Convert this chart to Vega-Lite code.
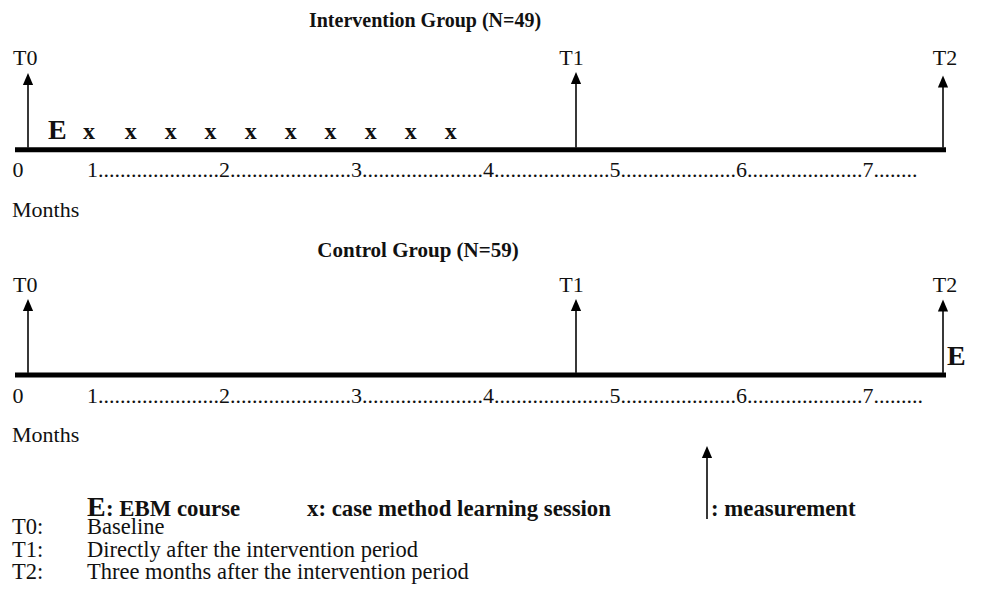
{
  "$schema": "https://vega.github.io/schema/vega-lite/v6.json",
  "width": 981,
  "height": 600,
  "autosize": {"type": "fit", "contains": "padding"},
  "padding": 0,
  "background": "white",
  "config": {"view": {"stroke": null}},
  "datasets": {
    "lines": [
      {"kind": "timeline", "x": 15, "y": 149.8, "x2": 946, "y2": 149.8},
      {"kind": "timeline", "x": 15, "y": 375, "x2": 946, "y2": 375},
      {"kind": "arrow", "x": 28, "y": 84, "x2": 28, "y2": 148},
      {"kind": "arrow", "x": 576, "y": 83, "x2": 576, "y2": 148},
      {"kind": "arrow", "x": 943, "y": 86, "x2": 943, "y2": 148},
      {"kind": "arrow", "x": 28, "y": 310, "x2": 28, "y2": 373},
      {"kind": "arrow", "x": 576, "y": 310, "x2": 576, "y2": 373},
      {"kind": "arrow", "x": 943, "y": 310, "x2": 943, "y2": 373},
      {"kind": "arrow", "x": 707, "y": 456, "x2": 707, "y2": 519}
    ],
    "heads": [
      {"x": 28, "y": 79},
      {"x": 576, "y": 78},
      {"x": 943, "y": 81.5},
      {"x": 28, "y": 305},
      {"x": 576, "y": 305},
      {"x": 943, "y": 305.5},
      {"x": 707, "y": 452}
    ],
    "texts": [
      {"role": "title", "text": "Intervention Group (N=49)", "x": 425, "y": 27},
      {"role": "title2", "text": "Control Group (N=59)", "x": 418, "y": 257},
      {"role": "reg", "text": "T0", "x": 13, "y": 65},
      {"role": "reg", "text": "T0", "x": 13, "y": 292},
      {"role": "regc", "text": "T1", "x": 571.5, "y": 65},
      {"role": "regc", "text": "T2", "x": 945, "y": 65},
      {"role": "regc", "text": "T1", "x": 571.5, "y": 292},
      {"role": "regc", "text": "T2", "x": 945, "y": 292},
      {"role": "reg", "text": "0", "x": 12.5, "y": 177},
      {"role": "reg", "text": "0", "x": 12.5, "y": 403},
      {"role": "reg", "text": "1......................2......................3......................4.....................5.....................6.....................7........", "x": 87, "y": 177},
      {"role": "reg", "text": "1......................2......................3......................4.....................5.....................6.....................7.........", "x": 87, "y": 403},
      {"role": "reg", "text": "Months", "x": 12, "y": 217},
      {"role": "reg", "text": "Months", "x": 12, "y": 442},
      {"role": "def", "text": "T0:", "x": 12, "y": 534},
      {"role": "def", "text": "Baseline", "x": 87, "y": 534},
      {"role": "def", "text": "T1:", "x": 12, "y": 556.5},
      {"role": "def", "text": "Directly after the intervention period", "x": 87, "y": 556.5},
      {"role": "def", "text": "T2:", "x": 12, "y": 579},
      {"role": "def", "text": "Three months after the intervention period", "x": 87, "y": 579},
      {"role": "bold", "text": ": EBM course", "x": 106, "y": 516},
      {"role": "bold", "text": "x: case method learning session", "x": 307, "y": 516},
      {"role": "bold", "text": ": measurement", "x": 711, "y": 516},
      {"role": "big", "text": "E", "x": 48, "y": 139},
      {"role": "big", "text": "E", "x": 947, "y": 365},
      {"role": "big", "text": "E", "x": 87, "y": 516},
      {"role": "xs", "text": "x", "x": 89, "y": 139},
      {"role": "xs", "text": "x", "x": 130.7, "y": 139},
      {"role": "xs", "text": "x", "x": 170.7, "y": 139},
      {"role": "xs", "text": "x", "x": 210.5, "y": 139},
      {"role": "xs", "text": "x", "x": 250.7, "y": 139},
      {"role": "xs", "text": "x", "x": 290.7, "y": 139},
      {"role": "xs", "text": "x", "x": 330.5, "y": 139},
      {"role": "xs", "text": "x", "x": 370.7, "y": 139},
      {"role": "xs", "text": "x", "x": 410.7, "y": 139},
      {"role": "xs", "text": "x", "x": 450.7, "y": 139}
    ]
  },
  "encoding": {
    "x": {"field": "x", "type": "quantitative", "scale": {"domain": [0, 981], "nice": false, "zero": false}, "axis": null},
    "y": {"field": "y", "type": "quantitative", "scale": {"domain": [0, 600], "nice": false, "zero": false, "reverse": true}, "axis": null}
  },
  "layer": [
    {
      "data": {"name": "lines"},
      "transform": [{"filter": "datum.kind === 'timeline'"}],
      "mark": {"type": "rule", "strokeWidth": 5, "color": "#000000", "strokeCap": "butt"},
      "encoding": {"x2": {"field": "x2"}, "y2": {"field": "y2"}}
    },
    {
      "data": {"name": "lines"},
      "transform": [{"filter": "datum.kind === 'arrow'"}],
      "mark": {"type": "rule", "strokeWidth": 1.8, "color": "#222222", "strokeCap": "butt"},
      "encoding": {"x2": {"field": "x2"}, "y2": {"field": "y2"}}
    },
    {
      "data": {"name": "heads"},
      "mark": {"type": "point", "shape": "M0,-1L0.85,1L-0.85,1Z", "filled": true, "size": 144, "color": "#000000", "opacity": 1, "strokeWidth": 0}
    },
    {
      "data": {"name": "texts"},
      "transform": [{"filter": "datum.role === 'reg'"}],
      "mark": {"type": "text", "font": "Liberation Serif", "fontSize": 22, "align": "left", "baseline": "alphabetic", "color": "#111111"},
      "encoding": {"text": {"field": "text"}}
    },
    {
      "data": {"name": "texts"},
      "transform": [{"filter": "datum.role === 'def'"}],
      "mark": {"type": "text", "font": "Liberation Serif", "fontSize": 22.5, "align": "left", "baseline": "alphabetic", "color": "#111111"},
      "encoding": {"text": {"field": "text"}}
    },
    {
      "data": {"name": "texts"},
      "transform": [{"filter": "datum.role === 'regc'"}],
      "mark": {"type": "text", "font": "Liberation Serif", "fontSize": 22, "align": "center", "baseline": "alphabetic", "color": "#111111"},
      "encoding": {"text": {"field": "text"}}
    },
    {
      "data": {"name": "texts"},
      "transform": [{"filter": "datum.role === 'title'"}],
      "mark": {"type": "text", "font": "Liberation Serif", "fontSize": 20, "fontWeight": "bold", "align": "center", "baseline": "alphabetic", "color": "#111111"},
      "encoding": {"text": {"field": "text"}}
    },
    {
      "data": {"name": "texts"},
      "transform": [{"filter": "datum.role === 'title2'"}],
      "mark": {"type": "text", "font": "Liberation Serif", "fontSize": 21, "fontWeight": "bold", "align": "center", "baseline": "alphabetic", "color": "#111111"},
      "encoding": {"text": {"field": "text"}}
    },
    {
      "data": {"name": "texts"},
      "transform": [{"filter": "datum.role === 'bold'"}],
      "mark": {"type": "text", "font": "Liberation Serif", "fontSize": 22.8, "fontWeight": "bold", "align": "left", "baseline": "alphabetic", "color": "#111111"},
      "encoding": {"text": {"field": "text"}}
    },
    {
      "data": {"name": "texts"},
      "transform": [{"filter": "datum.role === 'xs'"}],
      "mark": {"type": "text", "font": "Liberation Serif", "fontSize": 24, "fontWeight": "bold", "align": "center", "baseline": "alphabetic", "color": "#111111"},
      "encoding": {"text": {"field": "text"}}
    },
    {
      "data": {"name": "texts"},
      "transform": [{"filter": "datum.role === 'big'"}],
      "mark": {"type": "text", "font": "Liberation Serif", "fontSize": 28, "fontWeight": "bold", "align": "left", "baseline": "alphabetic", "color": "#111111"},
      "encoding": {"text": {"field": "text"}}
    }
  ]
}
